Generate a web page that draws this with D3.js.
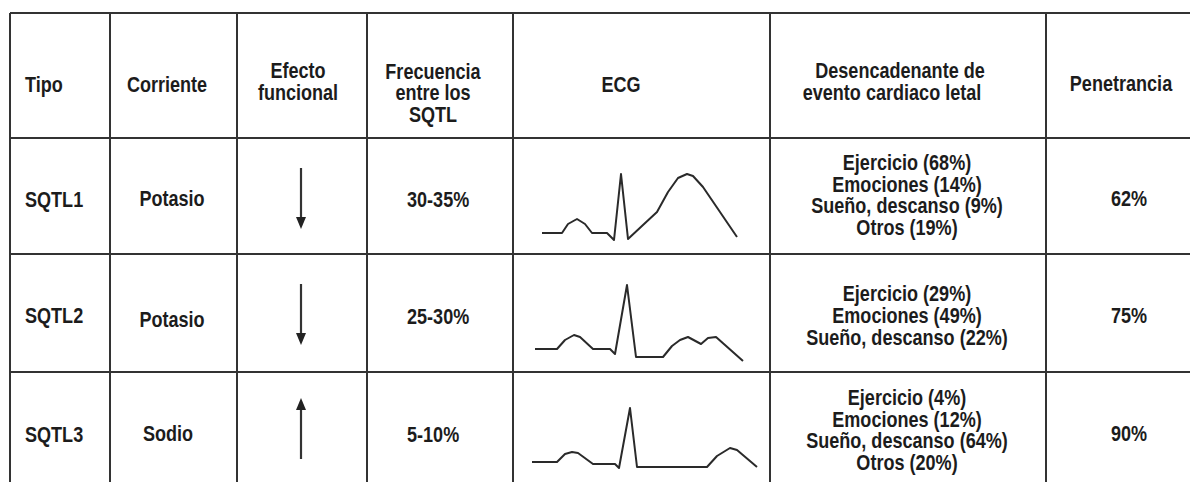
<!DOCTYPE html>
<meta charset="utf-8">
<style>
body { margin: 0; background: #fff; }
svg text {
  font-family: "Liberation Sans", Arial, sans-serif;
  font-weight: bold;
  font-size: 21.5px;
  fill: #1c1c1c;
}
</style>
<script src="https://d3js.org/d3.v7.min.js"></script>
<div id="tabla"></div>
<script>

// data
var headers = [
  ["Tipo"],
  ["Corriente"],
  ["Efecto", "funcional"],
  ["Frecuencia", "entre los", "SQTL"],
  ["ECG"],
  ["Desencadenante de", "evento cardiaco letal"],
  ["Penetrancia"]
];
var tipos = ["SQTL1", "SQTL2", "SQTL3"];
var corrientes = ["Potasio", "Potasio", "Sodio"];
var efectos = ["down", "down", "up"];
var frecuencias = ["30-35%", "25-30%", "5-10%"];
var desencadenantes = [
  ["Ejercicio (68%)", "Emociones (14%)", "Sueño, descanso (9%)", "Otros (19%)"],
  ["Ejercicio (29%)", "Emociones (49%)", "Sueño, descanso (22%)"],
  ["Ejercicio (4%)", "Emociones (12%)", "Sueño, descanso (64%)", "Otros (20%)"]
];
var penetrancias = ["62%", "75%", "90%"];

// ECG traces: [time units, amplitude units]
var ecg1 = [[29,21],[49,21],[55,30],[64,35],[72,30],[79,21],[94,21],[101,14],[108,80],[115,15],
            [130,29],[144,42],[155,62],[165,76],[174,80],[180,78],[190,67],[224,17]];
var ecg2 = [[22,23],[44,23],[52,32],[61,37],[67,35],[80,23],[97,23],[102,18],[114,87],[123,15],
            [150,15],[159,26],[167,32],[175,35],[188,28],[195,34],[203,35],[230,11]];
var ecg3 = [[19,28],[44,28],[52,36],[59,38],[65,37],[80,26],[102,26],[106,22],[117,82],[124,23],
            [194,23],[204,34],[217,42],[224,40],[244,23]];
var ecgs = [ecg1, ecg2, ecg3];

// layout
var W = 1190, H = 482;
var colX = [10, 110, 237, 367, 513, 770, 1046, 1215];
var rowY = [13, 138, 254, 372, 490];
var lineH = 21.7;
var narrow = 0.84;   // condensed look of the original lettering

var svg = d3.select("#tabla")
  .append("svg")
    .attr("width", W)
    .attr("height", H);

// put a text at (x, y) squeezed horizontally
function put(sel, fx, fy) {
  sel.attr("transform", function(d, i) {
    return "translate(" + fx(d, i) + "," + fy(d, i) + ") scale(" + narrow + ",1)";
  });
}

// grid
var grid = svg.append("g")
  .attr("stroke", "#333")
  .attr("stroke-width", 2)
  .attr("shape-rendering", "crispEdges");

grid.selectAll(".v")
  .data(colX)
  .enter().append("line")
    .attr("x1", function(d) { return d; })
    .attr("x2", function(d) { return d; })
    .attr("y1", rowY[0])
    .attr("y2", rowY[rowY.length - 1]);

grid.selectAll(".h")
  .data(rowY)
  .enter().append("line")
    .attr("x1", colX[0])
    .attr("x2", colX[colX.length - 1])
    .attr("y1", function(d) { return d; })
    .attr("y2", function(d) { return d; });

// header text
var headX = [25, 167, 298, 433, 621, 896, 1121];
var headBase = [[92], [92], [78, 100], [79, 100, 122], [92], [78, 100], [91]];
var headShift = [[0], [0], [0, 0], [0, 0, 0], [0], [4, -4], [0]];

headers.forEach(function(lines, c) {
  svg.selectAll(".h" + c)
    .data(lines)
    .enter().append("text")
      .attr("text-anchor", c === 0 ? "start" : "middle")
      .text(function(d) { return d; })
      .call(put,
        function(d, i) { return headX[c] + headShift[c][i]; },
        function(d, i) { return headBase[c][i]; });
});

// body rows
function baseline(r) { return (rowY[r + 1] + rowY[r + 2]) / 2 + 10; }

svg.selectAll(".tipo")
  .data(tipos)
  .enter().append("text")
    .text(function(d) { return d; })
    .call(put,
      function() { return 25; },
      function(d, i) { return baseline(i) + (i === 1 ? 0 : 1); });

svg.selectAll(".corr")
  .data(corrientes)
  .enter().append("text")
    .attr("text-anchor", "middle")
    .text(function(d) { return d; })
    .call(put,
      function(d, i) { return i === 2 ? 168 : 172; },
      function(d, i) { return baseline(i) + (i === 1 ? 4 : 0); });

svg.selectAll(".frec")
  .data(frecuencias)
  .enter().append("text")
    .text(function(d) { return d; })
    .call(put,
      function() { return 407; },
      function(d, i) { return baseline(i) + 1; });

svg.selectAll(".pen")
  .data(penetrancias)
  .enter().append("text")
    .attr("text-anchor", "middle")
    .text(function(d) { return d; })
    .call(put,
      function() { return 1129; },
      function(d, i) { return baseline(i); });

desencadenantes.forEach(function(lines, r) {
  var n = lines.length;
  var mid = baseline(r) - (n % 2 === 0 ? 3.5 : 0);
  svg.selectAll(".des" + r)
    .data(lines)
    .enter().append("text")
      .attr("text-anchor", "middle")
      .text(function(d) { return d; })
      .call(put,
        function() { return 907; },
        function(d, i) { return mid + (i - (n - 1) / 2) * lineH; });
});

// arrows for functional effect
var ax = 301;
efectos.forEach(function(dir, r) {
  var top = rowY[r + 1];
  var g = svg.append("g").attr("fill", "#222").attr("stroke", "#333");
  if (dir === "down") {
    g.append("line").attr("x1", ax).attr("x2", ax)
      .attr("y1", top + 30).attr("y2", top + 82).attr("stroke-width", 2.2);
    g.append("path").attr("stroke", "none")
      .attr("d", "M" + (ax - 5) + "," + (top + 79) + "L" + (ax + 5) + "," + (top + 79) +
                 "L" + ax + "," + (top + 91) + "Z");
  } else {
    g.append("line").attr("x1", ax).attr("x2", ax)
      .attr("y1", top + 36).attr("y2", top + 87).attr("stroke-width", 2.2);
    g.append("path").attr("stroke", "none")
      .attr("d", "M" + (ax - 5) + "," + (top + 38) + "L" + (ax + 5) + "," + (top + 38) +
                 "L" + ax + "," + (top + 26) + "Z");
  }
});

// ECG traces
var x = d3.scaleLinear()
  .domain([0, 257])
  .range([colX[4], colX[5]]);

var line = d3.line().curve(d3.curveLinear);

ecgs.forEach(function(pts, r) {
  var y = d3.scaleLinear()
    .domain([0, rowY[r + 2] - rowY[r + 1]])
    .range([rowY[r + 2], rowY[r + 1]]);
  line.x(function(d) { return x(d[0]); })
      .y(function(d) { return y(d[1]); });
  svg.append("path")
    .datum(pts)
    .attr("fill", "none")
    .attr("stroke", "#2a2a2a")
    .attr("stroke-width", 2)
    .attr("stroke-linejoin", "round")
    .attr("d", line);
});

</script>
